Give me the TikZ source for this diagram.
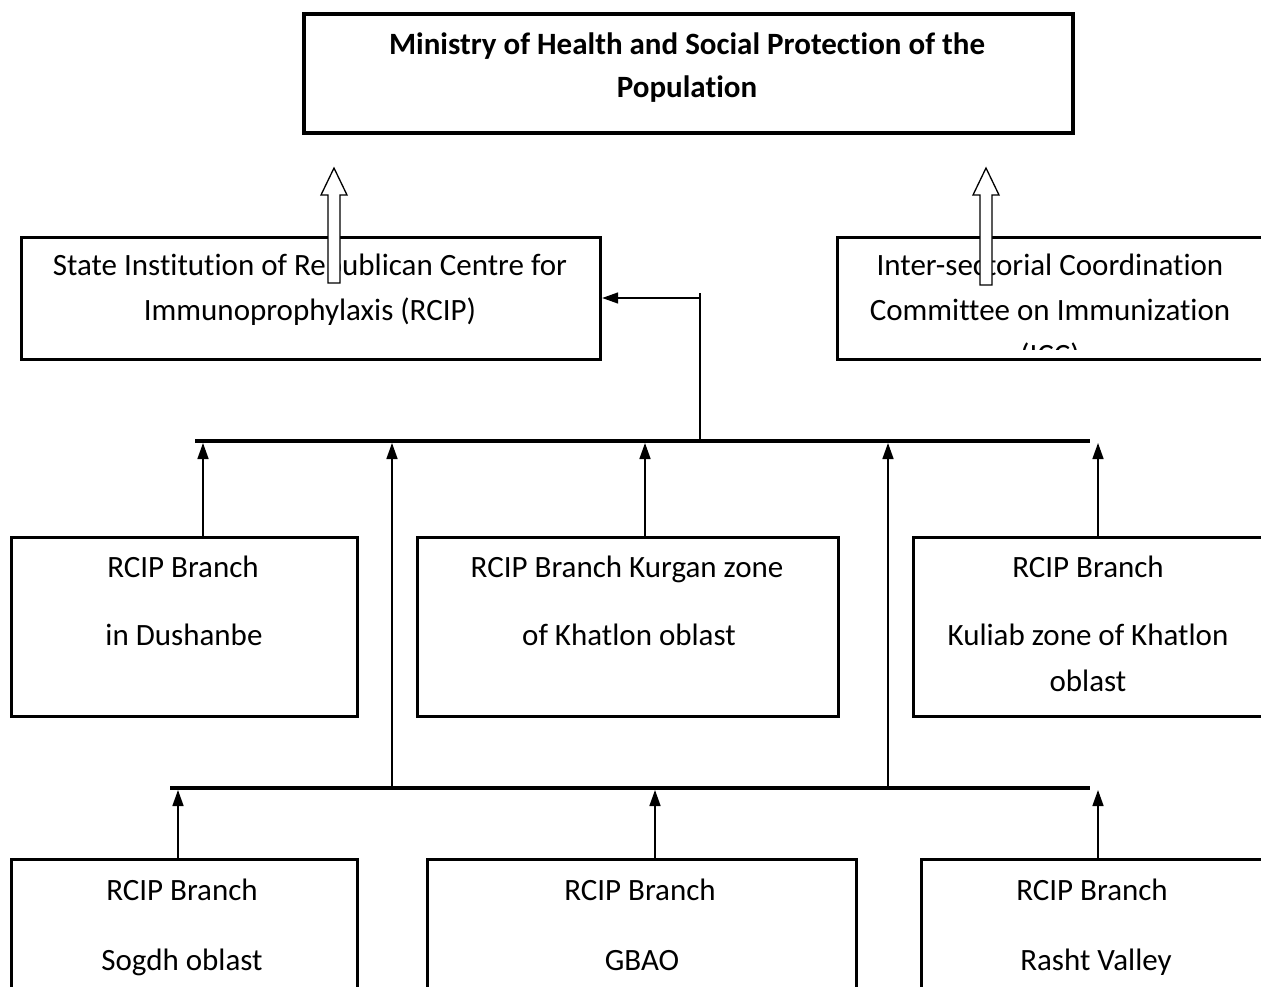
\documentclass[tikz,border=0pt]{standalone}
\usepackage{fontspec}
\setmainfont[Ligatures=NoCommon]{Carlito}
\usetikzlibrary{arrows.meta}
\begin{document}
\begin{tikzpicture}[x=1pt,y=-1pt,
  box/.style={draw, line width=3.2pt, inner sep=0pt, anchor=north west},
  conn/.style={line width=1.5pt},
  arr/.style={conn, -{Triangle[length=16pt,width=11pt]}},
  bar/.style={line width=4.5pt},
  txt/.style={font=\fontsize{31}{36}\selectfont, anchor=base, inner sep=0pt},
  btxt/.style={txt, font=\fontsize{31}{36}\selectfont\bfseries},
  hollow/.style={draw, fill=white, line width=1.3pt, line join=miter}]
\clip (0,0) rectangle (1261,987);
\fill[white] (0,0) rectangle (1261,987);
% top box
\node[box, line width=4pt, minimum width=769pt, minimum height=119pt] (moh) at (302,12) {};
\node[btxt] (moh1) at (687,55) {Ministry of Health and Social Protection of the};
\node[btxt] (moh2) at (687,98) {Population};
% second row
\node[box, minimum width=579pt, minimum height=122pt] (rcip) at (20,236) {};
\node[txt] (rcip1) at (310,276) {State Institution of Republican Centre for};
\node[txt] (rcip2) at (310,320) {Immunoprophylaxis (RCIP)};
\node[box, minimum width=500pt, minimum height=122pt] (icc) at (836,236) {};
\node[txt] (icc1) at (1050,275) {Inter-sectorial Coordination};
\node[txt] (icc2) at (1050,320) {Committee on Immunization};
\begin{scope}
\clip (838,238) rectangle (1261,349);
\node[txt] (icc3) at (1050,365) {(ICC)};
\end{scope}
% hollow arrows
\coordinate (ha1) at (334,168);
\coordinate (ha2) at (986,168);
\draw[hollow] (ha1) -- ++(13,27) -- ++(-7,0) -- ++(0,88) -- ++(-12,0) -- ++(0,-88) -- ++(-7,0) -- cycle;
\draw[hollow] (ha2) -- ++(13,27) -- ++(-7,0) -- ++(0,90) -- ++(-12,0) -- ++(0,-90) -- ++(-7,0) -- cycle;
% bars
\coordinate (b1l) at (195,441);
\coordinate (b1r) at (1090,441);
\coordinate (b2l) at (170,788);
\coordinate (b2r) at (1090,788);
\draw[bar] (b1l) -- (b1r);
\draw[bar] (b2l) -- (b2r);
% link to RCIP
\coordinate (v1b) at (700,439);
\coordinate (v1t) at (700,293);
\coordinate (v1h) at (700,298);
\draw[conn] (v1b) -- (v1t);
\draw[arr] (v1h) -- (rcip.east |- v1h);
% third row
\node[box, minimum width=346pt, minimum height=179pt] (dush) at (10,536) {};
\node[txt] (dush1) at (183,577) {RCIP Branch};
\node[txt] (dush2) at (184,645) {in Dushanbe};
\node[box, minimum width=421pt, minimum height=179pt] (kurg) at (416,536) {};
\node[txt] (kurg1) at (627,577) {RCIP Branch Kurgan zone};
\node[txt] (kurg2) at (629,645) {of Khatlon oblast};
\node[box, minimum width=400pt, minimum height=179pt] (kul) at (912,536) {};
\node[txt] (kul1) at (1088,577) {RCIP Branch};
\node[txt] (kul2) at (1088,645) {Kuliab zone of Khatlon};
\node[txt] (kul3) at (1088,691) {oblast};
% arrows into bar 1
\coordinate (a1) at (203,443);
\coordinate (a2) at (645,443);
\coordinate (a3) at (1098,443);
\coordinate (a4) at (392,443);
\coordinate (a5) at (888,443);
\draw[arr] (dush.north -| a1) -- (a1);
\draw[arr] (kurg.north -| a2) -- (a2);
\draw[arr] (kul.north -| a3) -- (a3);
\coordinate (l4) at (392,786);
\coordinate (l5) at (888,786);
\draw[arr] (l4) -- (a4);
\draw[arr] (l5) -- (a5);
% fourth row
\node[box, minimum width=346pt, minimum height=200pt] (sog) at (10,858) {};
\node[txt] (sog1) at (182,900) {RCIP Branch};
\node[txt] (sog2) at (182,970) {Sogdh oblast};
\node[box, minimum width=429pt, minimum height=200pt] (gbao) at (426,858) {};
\node[txt] (gbao1) at (640,900) {RCIP Branch};
\node[txt] (gbao2) at (642,970) {GBAO};
\node[box, minimum width=400pt, minimum height=200pt] (rasht) at (920,858) {};
\node[txt] (rasht1) at (1092,900) {RCIP Branch};
\node[txt] (rasht2) at (1096,970) {Rasht Valley};
% arrows into bar 2
\coordinate (c1) at (178,790);
\coordinate (c2) at (655,790);
\coordinate (c3) at (1098,790);
\draw[arr] (sog.north -| c1) -- (c1);
\draw[arr] (gbao.north -| c2) -- (c2);
\draw[arr] (rasht.north -| c3) -- (c3);
\end{tikzpicture}
\end{document}
